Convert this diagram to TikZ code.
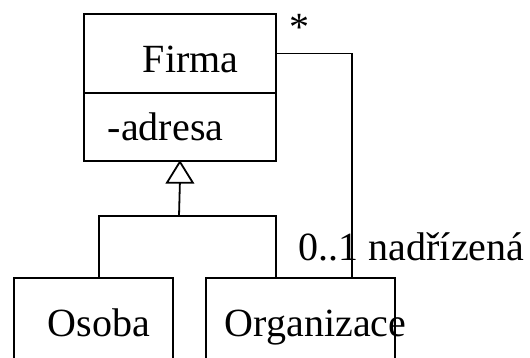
\documentclass[tikz,border=0pt]{standalone}
\usepackage{fontspec}
\setmainfont{Liberation Serif}
\begin{document}
\begin{tikzpicture}[x=1pt,y=-1pt,line width=1.8pt,
  box/.style={draw,rectangle,inner sep=0pt,anchor=north west},
  lbl/.style={inner sep=0pt,anchor=base west,font=\fontsize{40}{48}\selectfont},
  genhead/.style={draw,fill=white,line join=miter}]
\useasboundingbox (0,0) rectangle (530,357);
\clip (0,0) rectangle (530,357);
% Firma class: name and attribute compartments
\node[box,minimum width=192pt,minimum height=79pt] (fname) at (83,13) {};
\node[box,minimum width=192pt,minimum height=68pt] (fattr) at (83,92) {};
\node[lbl] (tfirma) at (142,72) {Firma};
\node[lbl] (tadresa) at (107,140) {-adresa};
% subclasses
\node[box,minimum width=159pt,minimum height=110pt] (osoba) at (13,277) {};
\node[box,minimum width=189pt,minimum height=110pt] (org) at (205,277) {};
\node[lbl] (tosoba) at (47,336) {Osoba};
\node[lbl] (torg) at (224,336) {Organizace};
% generalization: tree branches, stem and hollow triangle head
\coordinate (j) at (179,216);
\coordinate (base) at ([yshift=-21pt]fattr.south);
\draw ([xshift=86pt]osoba.north west) |- (j) -| ([xshift=71pt]org.north west);
\draw (j) -- (base);
\draw[genhead] (fattr.south) -- ([xshift=-13pt]base) -- ([xshift=13pt]base) -- cycle;
% self association of Firma through Organizace
\draw (fname.east) -| ([xshift=147pt]org.north west);
\node[lbl] (mstar) at (289,40) {*};
\node[lbl] (mrole) at (298,260) {0..1 nadřízená};
\end{tikzpicture}
\end{document}
